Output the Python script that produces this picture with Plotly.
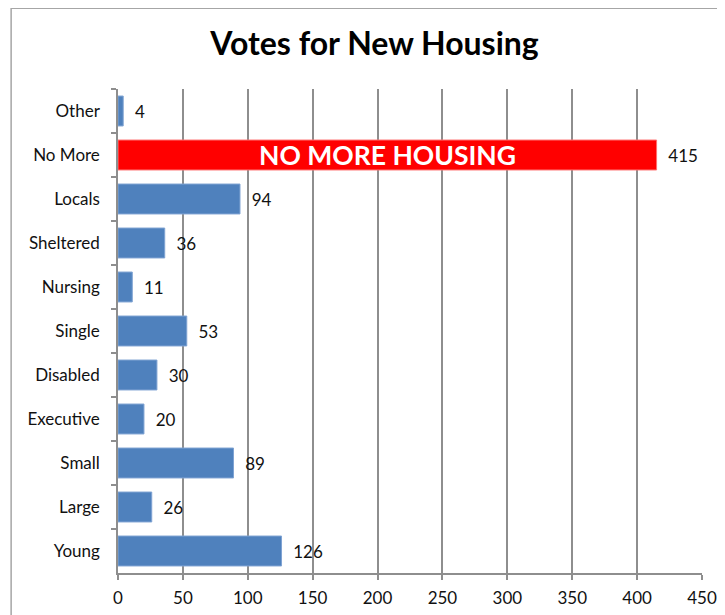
import plotly.graph_objects as go

# ── Data ──────────────────────────────────────────────────────────────────────
categories = ["Other", "No More", "Locals", "Sheltered", "Nursing", "Single",
              "Disabled", "Executive", "Small", "Large", "Young"]
votes = [4, 415, 94, 36, 11, 53, 30, 20, 89, 26, 126]
x_ticks = [0, 50, 100, 150, 200, 250, 300, 350, 400, 450]
highlight = "No More"
highlight_text = "NO MORE HOUSING"

# ── Styles ────────────────────────────────────────────────────────────────────
BLUE = "#4F81BD"
BLUE_EDGE = "#7FA3D3"
RED = "#FF0000"
RED_EDGE = "#FF6F6F"
GRID = "#8E8E8E"
FONT = "Lato, 'Open Sans', sans-serif"

colors = [RED if c == highlight else BLUE for c in categories]
edges = [RED_EDGE if c == highlight else BLUE_EDGE for c in categories]

fig = go.Figure()

fig.add_trace(go.Bar(
    y=categories, x=votes, orientation="h",
    marker=dict(color=colors, line=dict(color=edges, width=1)),
    text=[f"  {v}" for v in votes],
    textposition="outside",
    constraintext="none",
    cliponaxis=False,
    textfont=dict(color="#111111", size=17, family=FONT),
    hovertemplate="%{y}: %{x}<extra></extra>",
))

# White label inside the highlighted bar
hv = votes[categories.index(highlight)]
fig.add_annotation(
    x=hv / 2, y=highlight, text=f"<b>{highlight_text}</b>",
    showarrow=False, xref="x", yref="y",
    font=dict(color="white", size=26.5, family=FONT),
)

# Chart-area frame (cropped on the right and bottom like the reference)
fig.add_shape(
    type="rect", xref="paper", yref="paper",
    x0=-0.183, x1=1.2, y0=-0.3, y1=1.167,
    line=dict(color="#A6A6A6", width=1.5), fillcolor="rgba(0,0,0,0)",
    layer="below",
)

# page body has an 8px margin, so margins are trimmed to land on the reference
fig.update_layout(
    title=dict(text="<b>Votes for New Housing</b>", x=0.5055, xanchor="center",
               y=0.942, yanchor="middle",
               font=dict(color="black", size=32, family=FONT)),
    width=725, height=615,
    paper_bgcolor="white", plot_bgcolor="white",
    margin=dict(l=110, r=31, t=81, b=50),
    bargap=0.32,
    showlegend=False,
    font=dict(family=FONT, color="#111111", size=17),
)
fig.update_xaxes(
    range=[0, 450], tickvals=x_ticks, showgrid=True, gridcolor=GRID, gridwidth=1.5,
    zeroline=False, showline=True, linecolor=GRID, linewidth=1.5,
    ticks="outside", ticklen=5, tickcolor=GRID, tickwidth=1.5,
    tickfont=dict(size=17, family=FONT, color="#111111"),
    ticklabelstandoff=4, fixedrange=True,
)
fig.update_yaxes(
    autorange="reversed", showgrid=False, showline=True, linecolor=GRID, linewidth=1.5,
    ticks="outside", ticklen=5, tickcolor=GRID, tickwidth=1.5, tickson="boundaries",
    tickfont=dict(size=17, family=FONT, color="#111111"),
    ticklabelstandoff=13, fixedrange=True,
)

fig.write_html("out.html")
